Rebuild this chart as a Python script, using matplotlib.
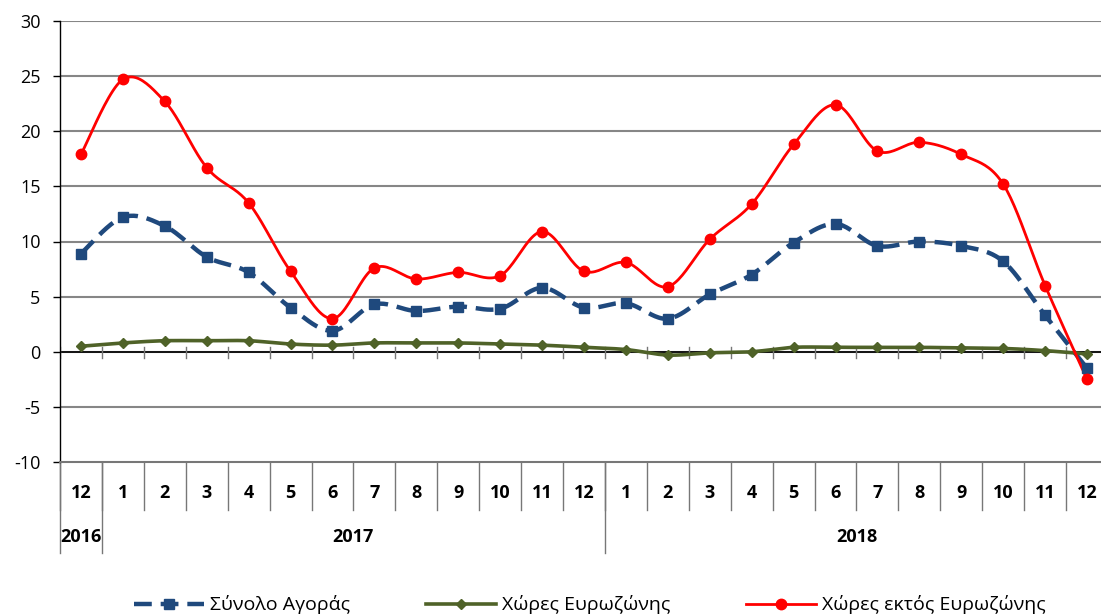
import numpy as np
import matplotlib
matplotlib.use("Agg")
import matplotlib.pyplot as plt
from matplotlib.lines import Line2D

plt.rcParams['font.family'] = ['Open Sans', 'DejaVu Sans']
plt.rcParams['axes.unicode_minus'] = False

months = ["12", "1", "2", "3", "4", "5", "6", "7", "8", "9", "10", "11", "12",
          "1", "2", "3", "4", "5", "6", "7", "8", "9", "10", "11", "12"]
years = ["2016", "2017", "2018"]
year_centers = [0, 6.5, 18.5]
year_bounds = [-0.5, 0.5, 12.5]

total_market = [8.9, 12.2, 11.4, 8.6, 7.2, 4.0, 1.9, 4.3, 3.7, 4.1, 3.9, 5.8, 4.0,
                4.4, 3.0, 5.2, 7.0, 9.9, 11.6, 9.6, 10.0, 9.6, 8.2, 3.3, -1.5]
eurozone = [0.5, 0.8, 1.0, 1.0, 1.0, 0.7, 0.6, 0.8, 0.8, 0.8, 0.7, 0.6, 0.4,
            0.2, -0.3, -0.1, 0.0, 0.4, 0.4, 0.4, 0.4, 0.35, 0.3, 0.1, -0.2]
non_eurozone = [17.9, 24.7, 22.7, 16.7, 13.5, 7.3, 3.0, 7.6, 6.6, 7.2, 6.9, 10.9, 7.3,
                8.1, 5.9, 10.2, 13.4, 18.8, 22.4, 18.2, 19.0, 17.9, 15.2, 6.0, -2.5]

labels = ["Σύνολο Αγοράς", "Χώρες Ευρωζώνης", "Χώρες εκτός Ευρωζώνης"]
colors = ["#1F497D", "#4F6228", "#FF0000"]


def smooth(x, y, n=24):
    pts = np.column_stack([x, y]).astype(float)
    out = []
    for i in range(len(pts) - 1):
        p0 = pts[i - 1] if i > 0 else pts[i]
        p1 = pts[i]
        p2 = pts[i + 1]
        p3 = pts[i + 2] if i + 2 < len(pts) else pts[i + 1]
        c1 = p1 + (p2 - p0) / 6
        c2 = p2 - (p3 - p1) / 6
        t = np.linspace(0, 1, n)[:, None]
        seg = (1 - t) ** 3 * p1 + 3 * (1 - t) ** 2 * t * c1 + 3 * (1 - t) * t ** 2 * c2 + t ** 3 * p2
        out.append(seg if i == 0 else seg[1:])
    return np.vstack(out)


fig = plt.figure(figsize=(11.01, 6.16), dpi=100)
W, H = 1101, 616
ax = fig.add_axes([60 / W, (H - 462) / H, 1048 / W, 441 / H])

x = np.arange(len(months))
ax.set_xlim(-0.5, len(months) - 0.5)
ax.set_ylim(-10, 30)
ax.set_yticks(np.arange(-10, 31, 5))

for v in range(-5, 31, 5):
    ax.axhline(v, color="#868686", lw=1.5, zorder=1)
ax.axhline(0, color="black", lw=1.2, zorder=2)

for s in ["top", "right"]:
    ax.spines[s].set_visible(False)
ax.spines["left"].set_color("black")
ax.spines["left"].set_linewidth(1.0)
ax.spines["bottom"].set_color("#777777")
ax.spines["bottom"].set_linewidth(1.5)
ax.tick_params(axis="y", length=5, width=1, pad=9, labelsize=13, direction="out")
ax.set_xticks([])

# cross ticks on zero line
px = 40 / 441  # data units per pixel
for b in np.arange(-0.5, len(months), 1.0):
    ax.plot([b, b], [-6 * px, 5 * px], color="#777777", lw=1.0, zorder=2)

# series
styles = [
    dict(ls=(0, (4, 2)), lw=3.2, marker="s", ms=7),
    dict(ls="-", lw=2.6, marker="D", ms=5),
    dict(ls="-", lw=2.0, marker="o", ms=7.5),
]
handles = []
for data, c, st, lab in zip([total_market, eurozone, non_eurozone], colors, styles, labels):
    sm = smooth(x, data)
    ax.plot(sm[:, 0], sm[:, 1], color=c, lw=st["lw"], linestyle=st["ls"], zorder=3)
    ax.plot(x, data, ls="none", marker=st["marker"], ms=st["ms"], color=c, zorder=4)
    handles.append(Line2D([], [], color=c, lw=st["lw"], linestyle=st["ls"],
                          marker=st["marker"], ms=st["ms"]))

# category table below
tr = ax.get_xaxis_transform()
for i, m in enumerate(months):
    ax.text(i, -0.070, m, transform=tr, ha="center", va="center",
            fontsize=13, fontweight="bold")
for b in np.arange(-0.5, len(months), 1.0):
    ax.plot([b, b], [0, -0.109], transform=tr, color="#777777", lw=1.0, clip_on=False)
for b in year_bounds:
    ax.plot([b, b], [0, -0.206], transform=tr, color="#777777", lw=1.0, clip_on=False)
for c, yl in zip(year_centers, years):
    ax.text(c, -0.170, yl, transform=tr, ha="center", va="center",
            fontsize=13, fontweight="bold")

fig.legend(handles, labels, loc="center", bbox_to_anchor=(0.536, 0.018), ncol=3,
           frameon=False, fontsize=14, handlelength=3.6, handletextpad=0.3,
           columnspacing=3.9)

fig.savefig("out.png", dpi=100)
